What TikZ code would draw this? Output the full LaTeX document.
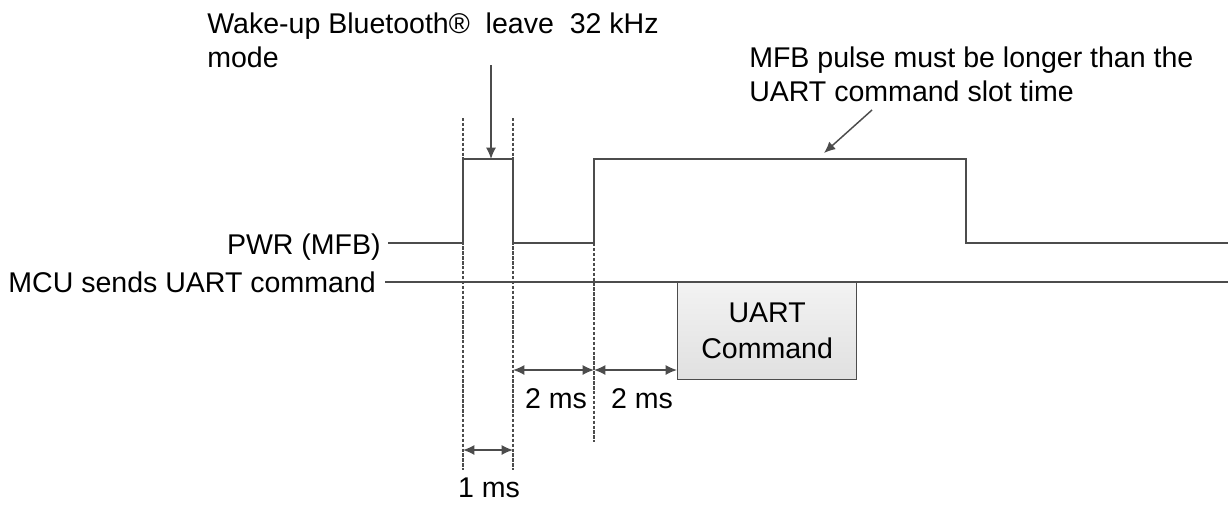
\documentclass[tikz,border=0pt]{standalone}
\usepackage{fontspec}
\setmainfont{Liberation Sans}
\usetikzlibrary{arrows.meta}
\begin{document}
\begin{tikzpicture}[x=0.75pt,y=-0.75pt,
  sig/.style={draw=black!70,line width=1.1pt},
  vdash/.style={draw=black!70,line width=1.4pt,dash pattern=on 2.6pt off 1.1pt},
  dim/.style={draw=black!70,line width=1.1pt,{Latex[length=8.5pt,width=7.5pt]}-{Latex[length=8.5pt,width=7.5pt]}},
  pointer/.style={draw=black!70,line width=1.1pt,-{Latex[length=8.5pt,width=7.5pt]}},
  lbl/.style={font=\fontsize{21.4pt}{25.5pt}\selectfont,inner sep=0pt},
  box/.style={draw=black!70,line width=1pt,top color=black!5,bottom color=black!12,inner sep=0pt,align=center,font=\fontsize{21.4pt}{27pt}\selectfont}]
\useasboundingbox (0,0) rectangle (1230,504);
% labels
\node[lbl,anchor=base east] (pwr) at (381,254) {PWR (MFB)};
\node[lbl,anchor=base east] (mcu) at (376,292) {MCU sends UART command};
\node[lbl,anchor=north west,align=left] (wake) at (207,12.5) {Wake-up Bluetooth®\ \ leave\ \ 32 kHz\\mode};
\node[lbl,anchor=north west,align=left] (mfbnote) at (749,46.5) {MFB pulse must be longer than the\\UART command slot time};
% coordinates
\coordinate (a0) at (388,243);
\coordinate (a1) at (463,243);
\coordinate (a2) at (463,159);
\coordinate (a3) at (513,159);
\coordinate (a4) at (513,243);
\coordinate (a5) at (594,243);
\coordinate (a6) at (594,159);
\coordinate (a7) at (966,159);
\coordinate (a8) at (966,243);
\coordinate (a9) at (1228,243);
\draw[sig] (a0) -- (a1) -- (a2) -- (a3) -- (a4) -- (a5) -- (a6) -- (a7) -- (a8) -- (a9);
% MCU line
\coordinate (m0) at (385,282);
\coordinate (m1) at (1228,282);
\draw[sig] (m0) -- (m1);
% UART box
\node[box,minimum width=179*0.75pt,minimum height=97*0.75pt,anchor=north west] (uart) at (677,282) {UART\\Command};
% dashed lines
\coordinate (d1t) at (463,118); \coordinate (d1b) at (463,470);
\coordinate (d2t) at (513,118); \coordinate (d2b) at (513,470);
\coordinate (d3t) at (594,243); \coordinate (d3b) at (594,442);
\draw[vdash] (d1t) -- (d1b);
\draw[vdash] (d2t) -- (d2b);
\draw[vdash] (d3t) -- (d3b);
% dimensions
\coordinate (e1) at (513,370); \coordinate (e2) at (594,370); \coordinate (e3) at (677,370);
\draw[dim] (e1) -- (e2);
\draw[dim] (e2) -- (e3);
\node[lbl,anchor=base] (t2a) at (556,408) {2 ms};
\node[lbl,anchor=base] (t2b) at (642,408) {2 ms};
\coordinate (f1) at (463,450); \coordinate (f2) at (513,450);
\draw[dim] (f1) -- (f2);
\node[lbl,anchor=base] (t1) at (489,497) {1 ms};
% pointers
\coordinate (p1s) at (491,65); \coordinate (p1e) at (491,159);
\draw[pointer] (p1s) -- (p1e);
\coordinate (p2s) at (872,110); \coordinate (p2e) at (824,153);
\draw[pointer] (p2s) -- (p2e);
\end{tikzpicture}
\end{document}
